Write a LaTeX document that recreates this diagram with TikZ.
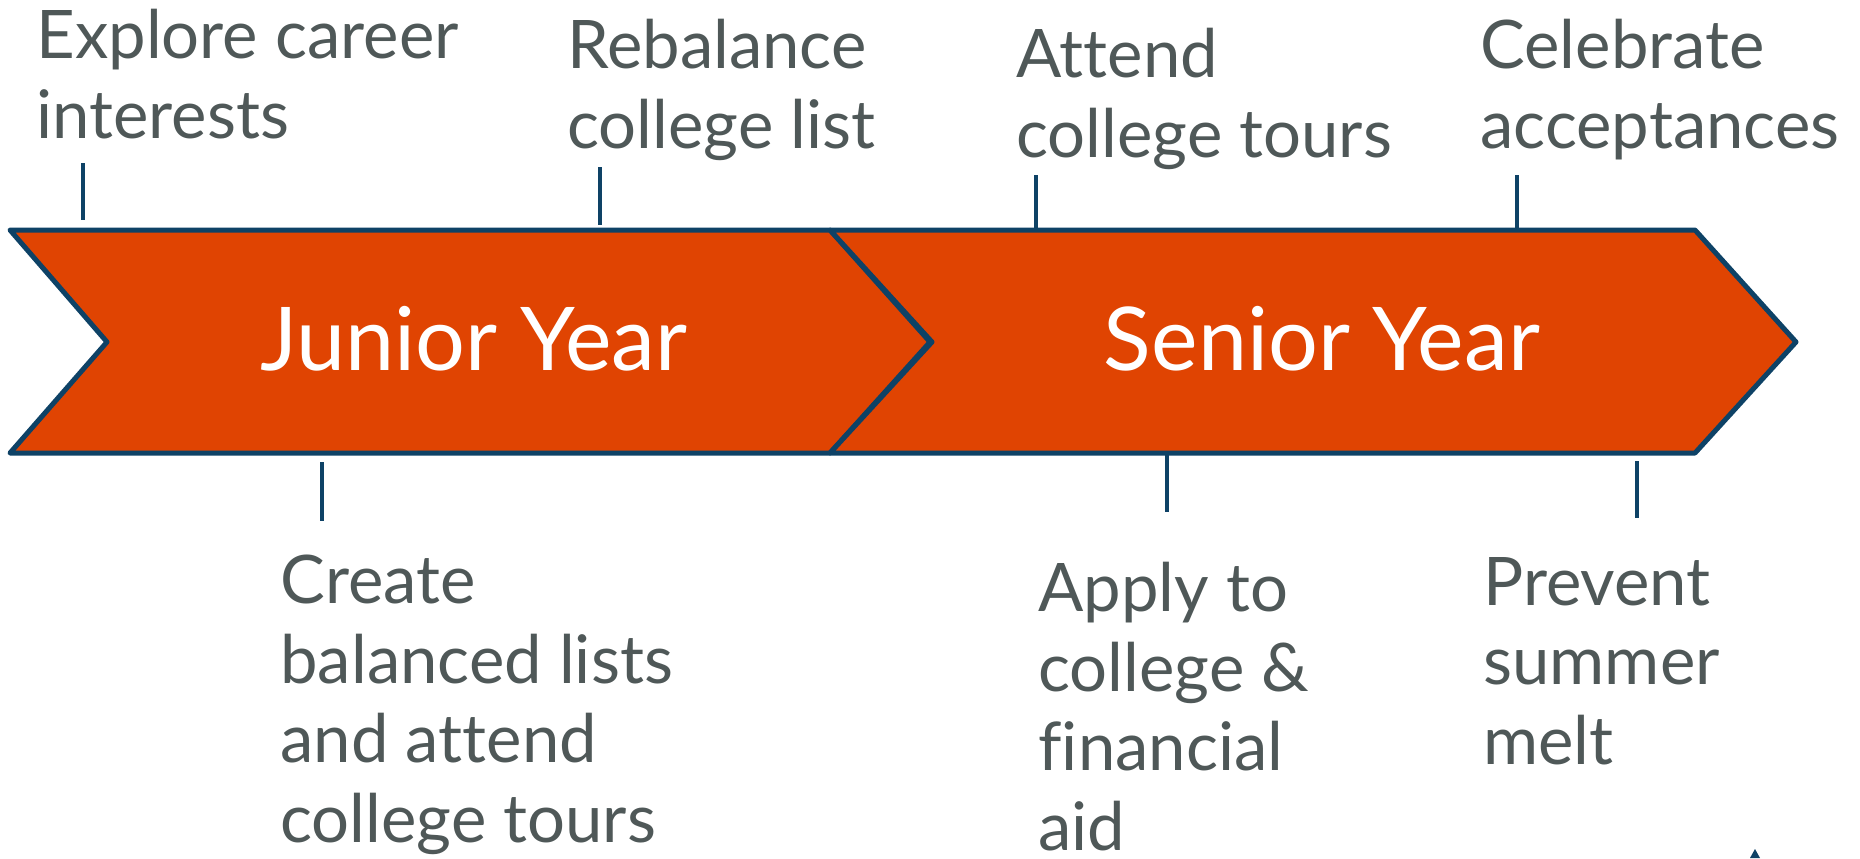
\documentclass[tikz,border=0pt]{standalone}
\usepackage{fontspec}
\setmainfont{Lato}[Ligatures={NoCommon}]
\definecolor{chev}{HTML}{E04402}
\definecolor{navy}{HTML}{0E4266}
\definecolor{txt}{HTML}{4F5858}
\begin{document}
\begin{tikzpicture}[x=0.5pt,y=-0.5pt,
  chevron/.style={fill=chev,draw=navy,line width=2.5pt,line join=round},
  tick/.style={draw=navy,line width=1.6pt},
  lbl/.style={text=txt,font=\fontsize{33.5}{39.7}\selectfont,align=left,inner sep=0pt,anchor=base west},
  year/.style={text=white,font=\fontsize{44}{50}\selectfont,inner sep=0pt,anchor=base}]
\useasboundingbox (0,0) rectangle (1860,858);
% chevrons
\draw[chevron] (10,230) -- (830,230) -- (930,342) -- (830,453) -- (10,453) -- (107,342) -- cycle;
\draw[chevron] (830,230) -- (1695,230) -- (1796,342) -- (1695,453) -- (830,453) -- (932,342) -- cycle;
\node[year] (junior) at (474,370) {Junior Year};
\node[year] (senior) at (1322,370) {Senior Year};
% labels (anchored at the baseline of the last line)
\node[lbl] (explore) at (36,138) {Explore career\\interests};
\node[lbl] (rebal) at (567,148) {Rebalance\\college list};
\node[lbl] (attend) at (1016,157) {Attend\\college tours};
\node[lbl] (celeb) at (1480,148) {Celebrate\\acceptances};
\node[lbl] (create) at (280,842) {Create\\balanced lists\\and attend\\college tours};
\node[lbl] (apply) at (1038,850) {Apply to\\college \&\\financial\\aid};
\node[lbl] (prevent) at (1483,764) {Prevent\\summer\\melt};
% ticks
\coordinate (t1a) at (83,163); \coordinate (t1b) at (83,220);
\coordinate (t2a) at (600,167); \coordinate (t2b) at (600,225);
\coordinate (t3a) at (1036,175); \coordinate (t3b) at (1036,230);
\coordinate (t4a) at (1517,175); \coordinate (t4b) at (1517,228);
\coordinate (t5a) at (322,462); \coordinate (t5b) at (322,521);
\coordinate (t6a) at (1167,454); \coordinate (t6b) at (1167,512);
\coordinate (t7a) at (1637,461); \coordinate (t7b) at (1637,518);
\foreach \i in {1,...,7} {\draw[tick] (t\i a) -- (t\i b);}
% small mark at the bottom edge
\fill[navy] (1755,849) -- (1760,858) -- (1750,858) -- cycle;
\end{tikzpicture}
\end{document}
